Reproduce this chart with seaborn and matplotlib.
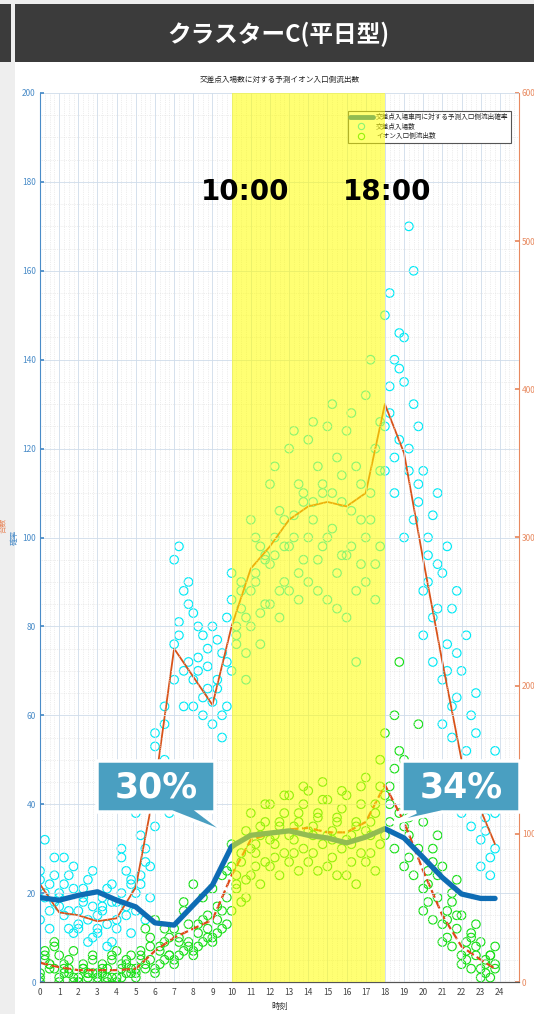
import numpy as np
import pandas as pd
import matplotlib
matplotlib.use("Agg")
import matplotlib.pyplot as plt
import seaborn as sns
from matplotlib.patches import Rectangle, Polygon
from matplotlib.lines import Line2D
from matplotlib.ticker import AutoMinorLocator

# ---------------- data ----------------
line_hours = [0, 1, 2, 3, 4, 5, 6, 7, 8, 9, 10, 11, 12, 13, 14, 15, 16, 17, 18, 19, 20, 21, 22, 23, 23.75]
# probability of outflow (%) - left axis
rate = [19, 18.4, 19.5, 20.3, 18.4, 16.9, 13.3, 12.8, 17.3, 21.8, 30.5, 33, 33.5, 34, 33, 32.4, 31.3, 32.6,
        34.5, 32.4, 28, 23.5, 19.8, 18.8, 18.8]
# mean entries to the intersection (vehicles) - right axis
entry_mean = [66, 47, 45, 41, 43, 64, 132, 225, 206, 187, 240, 279, 294, 312, 321, 324, 321, 330,
              390, 357, 285, 216, 150, 116, 93]
# mean outflow to the AEON entrance (vehicles) - right axis
aeon_mean = [13, 10, 8, 8, 8, 9, 21, 30, 36, 42, 72, 96, 100, 103, 104, 101, 101, 108,
             133, 108, 75, 45, 24, 15, 9]

quarter = [0, 0.25, 0.5, 0.75]
entry_counts = [
    [42, 96, 66, 54, 75, 60, 48, 84, 69, 57, 36, 72],
    [51, 66, 36, 78, 57, 45, 72, 33, 60, 84, 48, 63],
    [39, 54, 69, 30, 48, 63, 42, 75, 36, 57, 27, 51],
    [36, 51, 63, 27, 45, 57, 39, 66, 33, 48, 24, 54],
    [42, 60, 75, 33, 54, 84, 45, 66, 36, 90, 51, 69],
    [48, 72, 90, 57, 114, 66, 81, 132, 60, 99, 42, 78],
    [105, 126, 150, 114, 168, 138, 186, 120, 159, 144, 174, 132],
    [204, 234, 264, 216, 285, 243, 186, 255, 228, 294, 210, 270],
    [186, 210, 234, 198, 249, 219, 180, 225, 204, 240, 192, 213],
    [174, 198, 222, 186, 240, 204, 165, 216, 189, 231, 180, 246],
    [210, 240, 264, 222, 276, 234, 252, 204, 258, 228, 270, 246],
    [240, 270, 294, 255, 312, 276, 228, 285, 264, 300, 249, 288],
    [255, 288, 318, 270, 336, 300, 246, 312, 282, 348, 264, 294],
    [264, 300, 336, 285, 360, 315, 258, 330, 294, 372, 276, 324],
    [270, 312, 348, 294, 366, 324, 264, 336, 300, 378, 285, 330],
    [258, 306, 354, 288, 375, 330, 252, 342, 300, 390, 276, 324],
    [246, 294, 348, 282, 372, 318, 216, 336, 288, 384, 264, 312],
    [270, 312, 360, 294, 396, 330, 258, 378, 300, 420, 282, 345],
    [345, 384, 420, 366, 450, 402, 330, 438, 375, 465, 354, 414],
    [300, 345, 390, 324, 435, 360, 480, 336, 405, 510, 312, 375],
    [234, 270, 315, 252, 345, 288, 216, 330, 264, 300, 246, 282],
    [174, 210, 252, 192, 276, 228, 165, 264, 204, 294, 186, 222],
    [114, 144, 180, 132, 210, 156, 105, 195, 138, 234, 126, 168],
    [78, 102, 126, 90, 144, 111, 72, 156, 96, 135, 84, 114],
]
aeon_counts = [
    [6, 18, 12, 27, 3, 15, 9, 24, 0, 21, 12, 9],
    [3, 12, 6, 21, 0, 9, 15, 3, 18, 6, 9, 0],
    [0, 9, 6, 18, 3, 12, 6, 15, 0, 9, 3, 6],
    [3, 9, 0, 15, 6, 12, 3, 18, 0, 6, 9, 3],
    [3, 12, 6, 18, 0, 9, 15, 6, 21, 3, 12, 9],
    [6, 15, 9, 24, 3, 18, 12, 30, 9, 21, 36, 15],
    [9, 21, 15, 30, 6, 24, 36, 18, 42, 12, 27, 18],
    [15, 27, 21, 39, 12, 30, 48, 24, 36, 18, 54, 27],
    [18, 33, 27, 45, 21, 39, 57, 30, 66, 24, 42, 36],
    [27, 42, 36, 57, 30, 51, 72, 39, 63, 33, 48, 75],
    [48, 66, 81, 57, 93, 72, 54, 102, 78, 63, 87, 69],
    [72, 87, 105, 81, 114, 93, 66, 108, 90, 78, 99, 120],
    [78, 93, 108, 87, 120, 99, 72, 114, 96, 84, 105, 126],
    [81, 96, 114, 90, 126, 105, 75, 120, 99, 87, 108, 132],
    [81, 99, 114, 93, 129, 105, 75, 123, 102, 87, 111, 135],
    [78, 96, 111, 90, 123, 102, 72, 117, 99, 84, 108, 129],
    [72, 93, 108, 87, 126, 99, 66, 120, 96, 81, 105, 132],
    [81, 99, 120, 93, 138, 108, 75, 132, 102, 87, 114, 150],
    [99, 120, 144, 114, 168, 132, 90, 156, 126, 108, 180, 216],
    [78, 99, 126, 90, 150, 111, 72, 174, 105, 84, 135, 120],
    [48, 66, 90, 57, 108, 75, 42, 99, 63, 54, 81, 72],
    [27, 42, 60, 36, 78, 48, 24, 69, 39, 30, 54, 45],
    [12, 21, 33, 18, 45, 27, 9, 39, 18, 15, 30, 24],
    [3, 12, 18, 9, 27, 15, 3, 24, 9, 6, 18, 12],
]

x_ticks = list(range(0, 25))
left_ticks = list(range(0, 201, 20))
right_ticks = list(range(0, 601, 100))

header_text = "クラスターC(平日型)"
title_text = "交差点入場数に対する予測イオン入口側流出数"
legend_labels = ["交差点入場車両に対する予測入口側流出確率", "交差点入場数", "イオン入口側流出数"]
callouts = ["30%", "34%"]
band_labels = ["10:00", "18:00"]

# -------------- build frames --------------
def to_frame(vals):
    rows = []
    for h, lst in enumerate(vals):
        for i, v in enumerate(lst):
            rows.append((h + quarter[i % 4], v))
    return pd.DataFrame(rows, columns=["time", "count"])

df_entry = to_frame(entry_counts)
df_aeon = to_frame(aeon_counts)

# -------------- style --------------
sns.set_theme(style="white")
plt.rcParams['font.family'] = ['Noto Sans CJK JP', 'DejaVu Sans']
plt.rcParams['axes.unicode_minus'] = False

W, H = 534, 1014
fig = plt.figure(figsize=(W / 100, H / 100), dpi=100, facecolor='#eeeeee')

def fx(px):
    return px / W

def fy(py):
    return 1 - py / H

# panels
fig.patches.append(Rectangle((fx(15), 0), 1 - fx(15), fy(62), transform=fig.transFigure,
                             facecolor='white', edgecolor='none', zorder=-3))
fig.patches.append(Rectangle((fx(15), fy(62)), 1 - fx(15), fy(4) - fy(62), transform=fig.transFigure,
                             facecolor='#3b3b3b', edgecolor='none', zorder=-3))
fig.patches.append(Rectangle((0, fy(62)), fx(11), fy(4) - fy(62), transform=fig.transFigure,
                             facecolor='#3b3b3b', edgecolor='none', zorder=-3))
fig.text(fx(278), fy(34), header_text, color='white', fontsize=17, fontweight='bold',
         ha='center', va='center')

BLUE = '#0e6cb4'
LBLUE = '#4a8cc8'
ORANGE = '#d9531a'
LORANGE = '#e88a60'
CYAN = '#00eaf6'
GREEN = '#18e018'

ax = fig.add_axes([fx(40), fy(982), fx(519) - fx(40), fy(93) - fy(982)])
ax2 = ax.twinx()
ax.set_zorder(2)
ax.patch.set_visible(False)
ax2.set_zorder(1)
ax2.patch.set_visible(True)
ax2.patch.set_facecolor('white')

# counts on right axis
sns.scatterplot(data=df_entry, x="time", y="count", ax=ax2, marker='o', s=38,
                facecolors='none', edgecolor=CYAN, linewidth=0.85, legend=False, zorder=2)
sns.scatterplot(data=df_aeon, x="time", y="count", ax=ax2, marker='o', s=38,
                facecolors='none', edgecolor=GREEN, linewidth=0.85, legend=False, zorder=3)
sns.lineplot(x=line_hours, y=entry_mean, ax=ax2, color=ORANGE, lw=1.3, sort=False,
             estimator=None, zorder=4)
sns.lineplot(x=line_hours, y=aeon_mean, ax=ax2, color='#e04818', lw=1.6, linestyle='--',
             sort=False, estimator=None, zorder=5)

# probability on left axis
sns.lineplot(x=line_hours, y=rate, ax=ax, color=BLUE, lw=3.8, sort=False, estimator=None, zorder=6)

ax.set_xlim(0, 25)
ax.set_ylim(0, 200)
ax2.set_ylim(0, 600)
ax.set_xticks(x_ticks)
ax.set_xticklabels([str(t) for t in x_ticks])
ax.set_yticks(left_ticks)
ax2.set_yticks(right_ticks)
ax.set_xlabel("")
ax.set_ylabel("")
ax2.set_ylabel("")

ax.xaxis.set_minor_locator(AutoMinorLocator(4))
ax.yaxis.set_minor_locator(AutoMinorLocator(4))
ax.grid(True, which='major', color='#cfdcea', lw=0.6)
ax.grid(True, which='minor', color='#dedede', lw=0.5, ls=':')

ax.tick_params(axis='y', which='major', colors=LBLUE, labelsize=6, direction='in', length=3, pad=3)
ax.tick_params(axis='x', which='major', colors='#444444', labelsize=6, direction='in', length=4, pad=4)
ax.tick_params(which='minor', length=0)
ax2.tick_params(axis='y', which='major', colors=LORANGE, labelsize=6, direction='in', length=3, pad=2)
ax2.tick_params(which='minor', length=0)

for a in (ax, ax2):
    a.spines['top'].set_visible(False)
ax.spines['right'].set_visible(False)
ax2.spines['left'].set_visible(False)
ax.spines['left'].set_color(LBLUE)
ax2.spines['right'].set_color(LORANGE)
ax.spines['bottom'].set_color('#555555')
ax2.spines['bottom'].set_color('#555555')
for s in ax.spines.values():
    s.set_linewidth(0.8)
for s in ax2.spines.values():
    s.set_linewidth(0.8)

# legend
handles = [Line2D([], [], color=BLUE, lw=3.5),
           Line2D([], [], marker='o', ls='none', mfc='none', mec=CYAN, ms=4.5, mew=0.8),
           Line2D([], [], marker='o', ls='none', mfc='none', mec=GREEN, ms=4.5, mew=0.8)]
leg = ax.legend(handles, legend_labels, loc='upper right', bbox_to_anchor=(0.99, 0.984),
                fontsize=4.8, frameon=True, fancybox=False, edgecolor='#555555', framealpha=1,
                borderpad=0.35, labelspacing=0.25, handlelength=3.4, handletextpad=0.5)
leg.get_frame().set_linewidth(0.8)
leg.set_zorder(8)

# translucent highlight band
ax.axvspan(10, 18, color='#ffff00', alpha=0.55, lw=0, zorder=10)

# texts
fig.text(fx(280), fy(80), title_text, ha='center', va='center', fontsize=5.5, color='#222222')
fig.text(fx(280), fy(1006), "時刻", ha='center', va='center', fontsize=6, color='#333333')
fig.text(fx(15), fy(537), "確率", ha='center', va='center', rotation=90, fontsize=5.5, color=LBLUE)
fig.text(fx(4), fy(525), "台数", ha='center', va='center', rotation=90, fontsize=5.5, color=LORANGE)

fig.text(fx(245), fy(192), band_labels[0], ha='center', va='center', fontsize=20,
         fontweight='bold', color='black', family='DejaVu Sans', zorder=20)
fig.text(fx(387), fy(192), band_labels[1], ha='center', va='center', fontsize=20,
         fontweight='bold', color='black', family='DejaVu Sans', zorder=20)

# callout bubbles
TEAL = '#4a9fc1'
b1 = [(97, 761), (215, 761), (215, 812), (199, 812), (228, 834), (172, 812), (97, 812)]
b2 = [(402, 761), (520, 761), (520, 812), (442, 812), (393, 823), (416, 812), (402, 812)]
for pts, txt, cx in ((b1, callouts[0], 156), (b2, callouts[1], 461)):
    poly = Polygon([(fx(x), fy(y)) for x, y in pts], closed=True, transform=fig.transFigure,
                   facecolor=TEAL, edgecolor='white', lw=2.5, zorder=15, joinstyle='miter')
    fig.patches.append(poly)
    fig.text(fx(cx), fy(788), txt, ha='center', va='center', fontsize=25, fontweight='bold',
             color='white', family='DejaVu Sans', zorder=20)

fig.savefig("out.png", dpi=100, facecolor=fig.get_facecolor())
